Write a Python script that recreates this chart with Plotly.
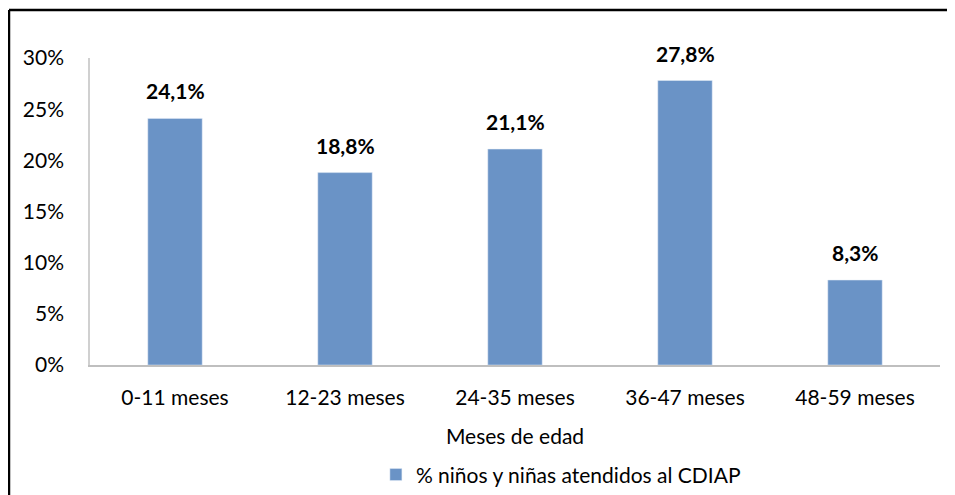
import plotly.graph_objects as go

categories = ["0-11 meses", "12-23 meses", "24-35 meses", "36-47 meses", "48-59 meses"]
values = [24.1, 18.8, 21.1, 27.8, 8.3]
labels = ["24,1%", "18,8%", "21,1%", "27,8%", "8,3%"]
y_ticks = [0, 5, 10, 15, 20, 25, 30]
y_tick_text = ["0%", "5%", "10%", "15%", "20%", "25%", "30%"]

FONT = "Lato, Carlito, Calibri, sans-serif"

fig = go.Figure()
fig.add_trace(go.Bar(
    name="% niños y niñas atendidos al CDIAP",
    x=categories,
    y=values,
    width=0.32,
    marker_color="#6A93C6",
    hoverinfo="y",
))

# value labels sitting above each bar
for cat, val, lab in zip(categories, values, labels):
    fig.add_annotation(
        x=cat, y=val, text="<b>%s</b>" % lab,
        showarrow=False, yanchor="bottom", yshift=13,
        font=dict(family=FONT, size=21, color="black"),
    )

# margins compensate for the 8px body margin of the html page;
# figure is taller than the window so the legend never pushes the margins
fig.update_layout(
    width=955, height=520,
    margin=dict(l=82, r=23, t=50, b=163),
    plot_bgcolor="white",
    paper_bgcolor="white",
    font=dict(family=FONT, size=21, color="black"),
    showlegend=True,
    legend=dict(orientation="h", x=0.554, xanchor="center", y=-0.358, yanchor="middle",
                font=dict(size=21)),
    shapes=[
        # frame around the chart (only top and left edges fall inside the picture)
        dict(type="line", xref="paper", yref="paper", x0=-0.0953, x1=1.05, y0=1.156, y1=1.156,
             line=dict(color="black", width=2.5)),
        dict(type="line", xref="paper", yref="paper", x0=-0.0953, x1=-0.0953, y0=1.156, y1=-0.6,
             line=dict(color="black", width=2.5)),
    ],
)

fig.update_xaxes(
    automargin=False,
    showline=True, linecolor="#BFBFBF", linewidth=1.5,
    ticks="outside", ticklen=13, tickcolor="rgba(0,0,0,0)",
    title=dict(text="Meses de edad", standoff=21, font=dict(size=21)),
    showgrid=False,
)
fig.update_yaxes(
    automargin=False,
    range=[0, 30],
    tickvals=y_ticks, ticktext=y_tick_text,
    showline=True, linecolor="#D0D0D0", linewidth=1.5,
    ticks="outside", ticklen=20, tickcolor="rgba(0,0,0,0)",
    showgrid=False, zeroline=False,
)

fig.write_html("out.html")
